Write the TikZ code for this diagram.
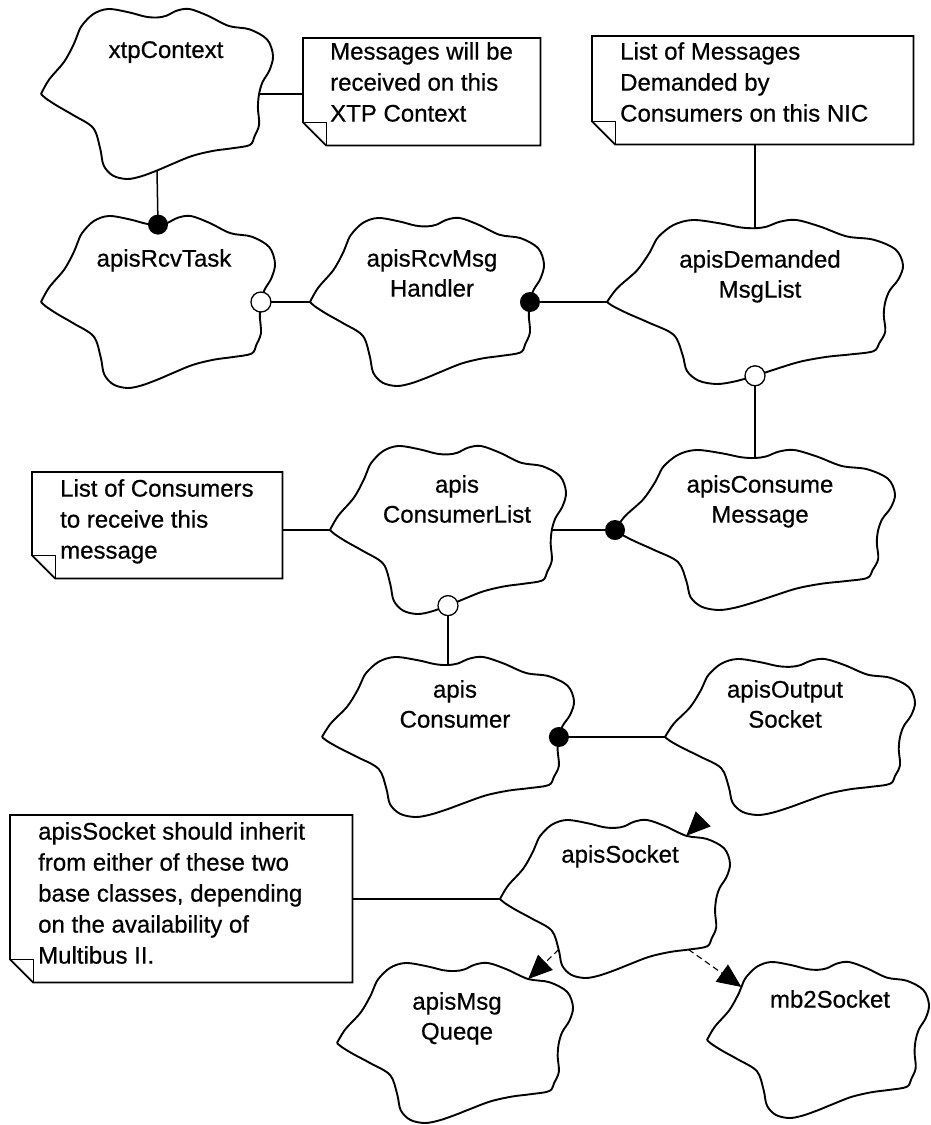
\documentclass[tikz,border=0pt]{standalone}
\usepackage{fontspec}
\setmainfont{Liberation Sans}
\newfontface\diagfont{Liberation Sans}[FakeBold=0.6]
\usetikzlibrary{arrows.meta}

% Booch class cloud: name, centre x, centre y, half width, half height,
% label x, label top y, label text
\newcommand\boochcloud[8]{%
  \begin{scope}[shift={(#2,#3)}, x=#4pt, y=-#5pt]
    \draw[cloudline] plot[smooth, tension=0.55] coordinates {
      (-1.00,0.00) (-0.93,-0.17) (-0.80,-0.38) (-0.72,-0.58) (-0.69,-0.68)
      (-0.65,-0.80) (-0.55,-0.94) (-0.42,-1.00) (-0.24,-0.96) (-0.10,-0.91)
      (0.00,-0.90) (0.08,-0.92) (0.17,-0.98) (0.28,-1.00) (0.44,-0.92)
      (0.62,-0.80) (0.80,-0.76) (0.95,-0.64) (1.00,-0.45) (0.97,-0.28)
      (0.91,-0.14) (0.88,0.00) (0.87,0.16) (0.88,0.36) (0.84,0.50)
      (0.80,0.60) (0.64,0.64) (0.48,0.67) (0.30,0.73) (0.12,0.83)
      (0.00,0.90) (-0.14,0.97) (-0.26,1.00) (-0.38,0.96) (-0.46,0.84)
      (-0.49,0.64) (-0.55,0.40) (-0.72,0.25) (-0.86,0.14) (-0.96,0.05)
      (-1.00,0.00)};
    \coordinate (#1-w)  at (-1.00,0.00);
    \coordinate (#1-e)  at (0.88,0.00);
    \coordinate (#1-n)  at (0.00,-0.90);
    \coordinate (#1-s)  at (0.00,0.90);
    \coordinate (#1-ne) at (0.62,-0.80);
    \coordinate (#1-nw) at (-0.69,-0.68);
    \coordinate (#1-se) at (0.64,0.64);
    \coordinate (#1-sw) at (-0.49,0.64);
  \end{scope}
  \node[cloudlabel] (#1) at (#6,#7) {#8};
}

\begin{document}
\begin{tikzpicture}[x=1pt, y=-1pt,
  cloudline/.style={line width=1.9pt, line join=round},
  conn/.style={line width=1.5pt},
  bigtip/.tip={Triangle[length=24pt 0 0, width=21pt 0 0]},
  realize/.style={line width=1.1pt, dash pattern=on 6pt off 4pt, -bigtip},
  inherit/.style={line width=1.1pt, -bigtip},
  fdot/.style={circle, fill=black, inner sep=0pt, minimum size=20pt},
  odot/.style={circle, draw=black, fill=white, line width=1.3pt,
    inner sep=0pt, minimum size=20pt},
  cloudlabel/.style={anchor=north, align=center, inner sep=0pt,
    font=\diagfont\fontsize{24}{30}\selectfont},
  notebox/.style={rectangle, anchor=north west, inner sep=0pt},
  notetext/.style={anchor=north west, align=left, inner sep=0pt,
    font=\diagfont\fontsize{24}{31}\selectfont},
  noteline/.style={line width=1.7pt},
]
\useasboundingbox (0,0) rectangle (930,1125);
\fill[white] (0,0) rectangle (930,1125);

% classes
\boochcloud{xtp}{157}{94}{116}{85}{166}{41}{xtpContext}
\boochcloud{rcvtask}{158}{302}{117}{86}{164}{249}{apisRcvTask}
\boochcloud{handler}{427}{302}{117}{84}{432}{249}{apisRcvMsg\\Handler}
\boochcloud{demanded}{755}{302}{148}{82}{760}{250}{apisDemanded\\MsgList}
\boochcloud{consumemsg}{755}{530}{140}{80}{760}{475}{apisConsume\\Message}
\boochcloud{consumerlist}{448}{530}{118}{84}{457}{475}{apis\\ConsumerList}
\boochcloud{consumer}{448}{737}{126}{80}{455}{680}{apis\\Consumer}
\boochcloud{outsock}{790}{737}{125}{78}{785}{680}{apisOutput\\Socket}
\boochcloud{socket}{615}{899}{115}{79}{620}{845}{apisSocket}
\boochcloud{msgq}{455}{1043}{118}{80}{457}{992}{apisMsg\\Queqe}
\boochcloud{mb2}{818}{1040}{111}{78}{830}{990}{mb2Socket}

% notes
\node[notebox, minimum width=237pt, minimum height=107pt] (n1) at (303,38) {};
\node[notetext] (n1t) at ([shift={(27pt,-4pt)}]n1.north west)
  {Messages will be\\received on this\\XTP Context};
\node[notebox, minimum width=321pt, minimum height=108pt] (n2) at (592,36) {};
\node[notetext] (n2t) at ([shift={(28pt,-6pt)}]n2.north west)
  {List of Messages\\Demanded by\\Consumers on this NIC};
\node[notebox, minimum width=250pt, minimum height=106pt] (n3) at (32,472) {};
\node[notetext] (n3t) at ([shift={(28pt,-7pt)}]n3.north west)
  {List of Consumers\\to receive this\\message};
\node[notebox, minimum width=342pt, minimum height=167pt] (n4) at (10,815) {};
\node[notetext] (n4t) at ([shift={(28pt,-7pt)}]n4.north west)
  {apisSocket should inherit\\from either of these two\\base classes, depending\\on the availability of\\Multibus II.};

\foreach \n in {n1,n2,n3,n4}{
  \draw[noteline] (\n.north west) -- (\n.north east) -- (\n.south east)
    -- ([xshift=23pt]\n.south west) -- ([yshift=23pt]\n.south west) -- cycle;
  \draw[line width=1pt] ([yshift=23pt]\n.south west)
    -- ([shift={(23pt,23pt)}]\n.south west) -- ([xshift=23pt]\n.south west);
}

% relationships
\draw[conn] (xtp-e) -- (xtp-e -| n1.west);
\draw[conn] (xtp-s) -- (rcvtask-n);
\draw[conn] (rcvtask-e) -- (handler-w);
\draw[conn] (handler-e) -- (demanded-w);
\draw[conn] (demanded-n |- n2.south) -- (demanded-n);
\draw[conn] (demanded-s) -- (consumemsg-n);
\draw[conn] (consumerlist-e) -- (consumemsg-w);
\draw[conn] (consumerlist-w -| n3.east) -- (consumerlist-w);
\draw[conn] (consumerlist-s) -- (consumer-n);
\draw[conn] (consumer-e) -- (outsock-w);
\draw[conn] (socket-w -| n4.east) -- (socket-w);

\draw[realize] (socket-sw) -- (msgq-ne);
\draw[realize] (socket-se) -- (mb2-nw);
\coordinate (socket-in) at ([shift={(17pt,17pt)}]socket-ne);
\draw[inherit] (socket-in) -- (socket-ne);

% adornments
\node[fdot] (j1) at (rcvtask-n) {};
\node[odot] (j2) at (rcvtask-e) {};
\node[fdot] (j3) at (handler-e) {};
\node[odot] (j4) at (demanded-s) {};
\node[fdot] (j5) at (consumemsg-w) {};
\node[odot] (j6) at (consumerlist-s) {};
\node[fdot] (j7) at (consumer-e) {};
\end{tikzpicture}
\end{document}
